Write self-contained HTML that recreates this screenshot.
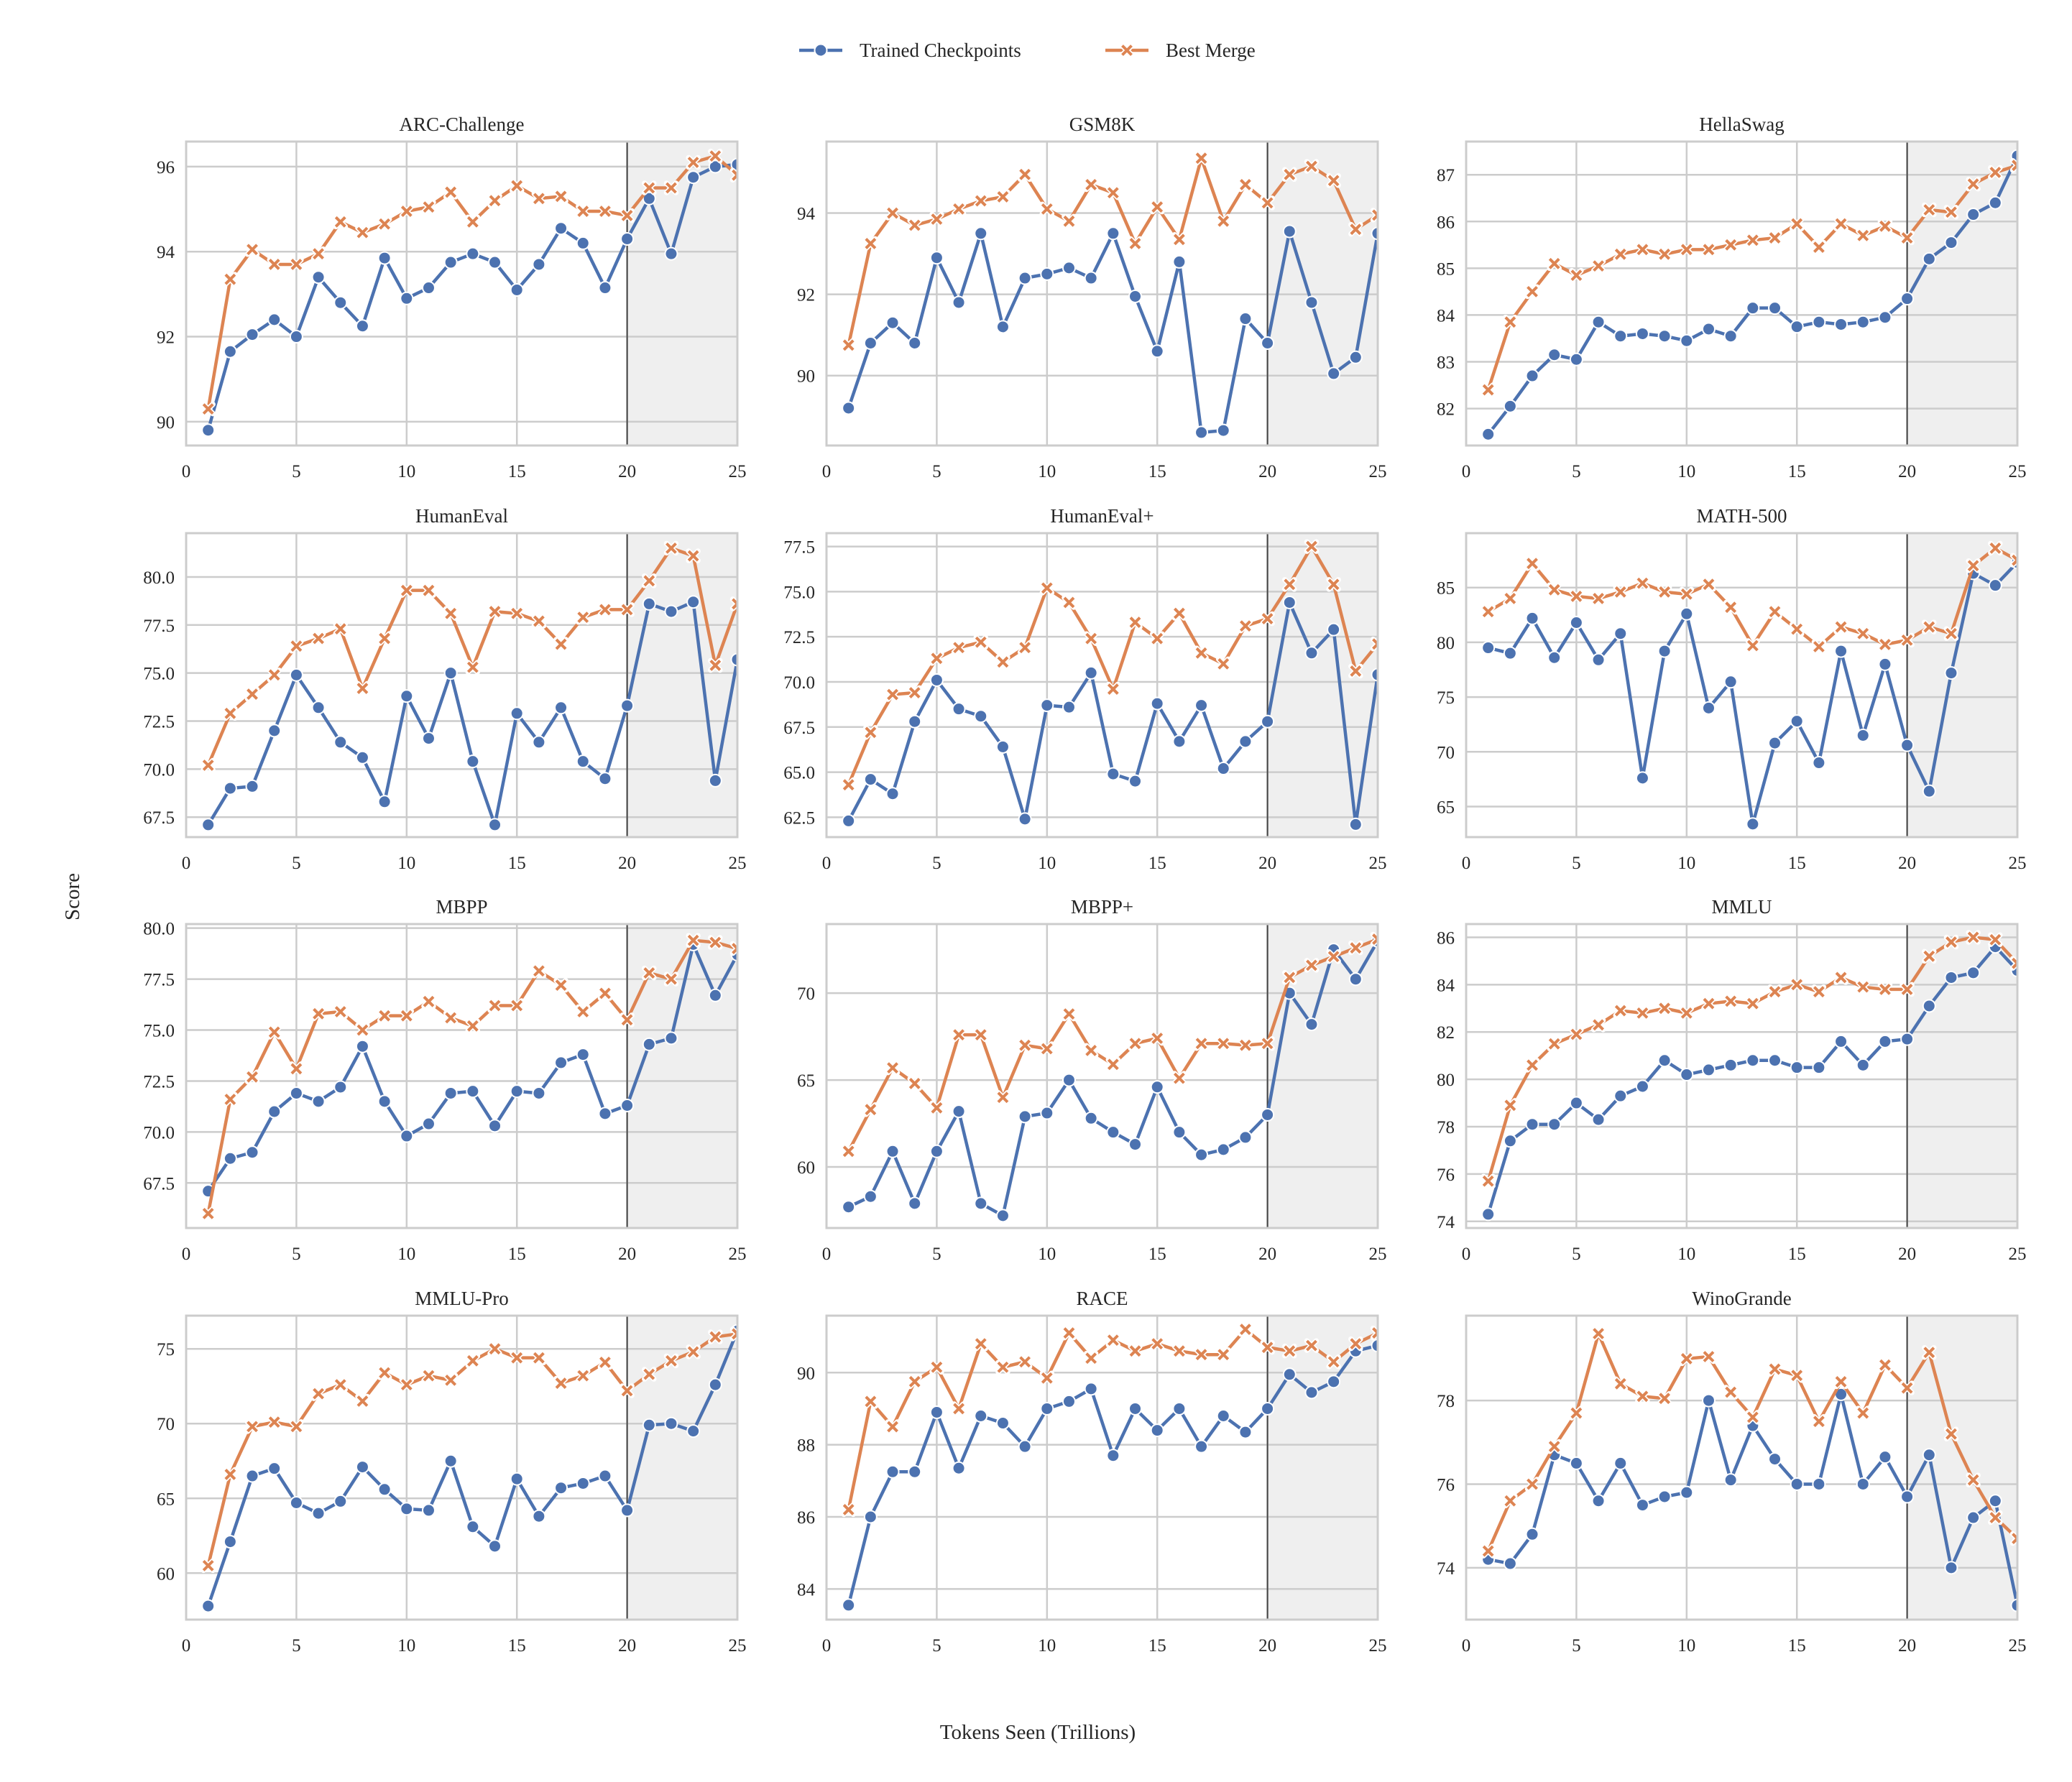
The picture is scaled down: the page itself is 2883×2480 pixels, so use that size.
<!DOCTYPE html>
<html><head><meta charset="utf-8"><style>
html,body{margin:0;padding:0;background:#fff}
svg{display:block}
text{font-family:"Liberation Serif",serif;fill:#262626}
</style></head><body>
<svg id="s" width="2883" height="2480" xmlns="http://www.w3.org/2000/svg"></svg>
<script>
const P=[
["ARC-Challenge",89.44,96.59,[90,92,94,96],
[89.8,91.65,92.05,92.4,92.0,93.4,92.8,92.25,93.85,92.9,93.15,93.75,93.95,93.75,93.1,93.7,94.55,94.2,93.15,94.3,95.25,93.95,95.75,96.0,96.05],
[90.3,93.35,94.05,93.7,93.7,93.95,94.7,94.45,94.65,94.95,95.05,95.4,94.7,95.2,95.55,95.25,95.3,94.95,94.95,94.85,95.5,95.5,96.1,96.25,95.8]],
["GSM8K",88.28,95.76,[90,92,94],
[89.2,90.8,91.3,90.8,92.9,91.8,93.5,91.2,92.4,92.5,92.65,92.4,93.5,91.95,90.6,92.8,88.6,88.65,91.4,90.8,93.55,91.8,90.05,90.45,93.5],
[90.75,93.25,94.0,93.7,93.85,94.1,94.3,94.4,94.95,94.1,93.8,94.7,94.5,93.25,94.15,93.35,95.35,93.8,94.7,94.25,94.95,95.15,94.8,93.6,93.95]],
["HellaSwag",81.21,87.71,[82,83,84,85,86,87],
[81.45,82.05,82.7,83.15,83.05,83.85,83.55,83.6,83.55,83.45,83.7,83.55,84.15,84.15,83.75,83.85,83.8,83.85,83.95,84.35,85.2,85.55,86.15,86.4,87.4],
[82.4,83.85,84.5,85.1,84.85,85.05,85.3,85.4,85.3,85.4,85.4,85.5,85.6,85.65,85.95,85.45,85.95,85.7,85.9,85.65,86.25,86.2,86.8,87.05,87.2]],
["HumanEval",66.46,82.28,[67.5,70,72.5,75,77.5,80],
[67.1,69.0,69.1,72.0,74.9,73.2,71.4,70.6,68.3,73.8,71.6,75.0,70.4,67.1,72.9,71.4,73.2,70.4,69.5,73.3,78.6,78.2,78.7,69.4,75.7],
[70.2,72.9,73.9,74.9,76.4,76.8,77.3,74.2,76.8,79.3,79.3,78.1,75.3,78.2,78.1,77.7,76.5,77.9,78.3,78.3,79.8,81.5,81.1,75.4,78.6],1],
["HumanEval+",61.4,78.24,[62.5,65,67.5,70,72.5,75,77.5],
[62.3,64.6,63.8,67.8,70.1,68.5,68.1,66.4,62.4,68.7,68.6,70.5,64.9,64.5,68.8,66.7,68.7,65.2,66.7,67.8,74.4,71.6,72.9,62.1,70.4],
[64.3,67.2,69.3,69.4,71.3,71.9,72.2,71.1,71.9,75.2,74.4,72.4,69.6,73.3,72.4,73.8,71.6,71.0,73.1,73.5,75.4,77.5,75.4,70.6,72.1],1],
["MATH-500",62.21,89.97,[65,70,75,80,85],
[79.5,79.0,82.2,78.6,81.8,78.4,80.8,67.6,79.2,82.6,74.0,76.4,63.4,70.8,72.8,69.0,79.2,71.5,78.0,70.6,66.4,77.2,86.3,85.2,87.3],
[82.8,84.0,87.2,84.8,84.2,84.0,84.6,85.4,84.6,84.4,85.3,83.2,79.7,82.8,81.2,79.6,81.4,80.8,79.8,80.2,81.4,80.8,87.0,88.6,87.5]],
["MBPP",65.29,80.2,[67.5,70,72.5,75,77.5,80],
[67.1,68.7,69.0,71.0,71.9,71.5,72.2,74.2,71.5,69.8,70.4,71.9,72.0,70.3,72.0,71.9,73.4,73.8,70.9,71.3,74.3,74.6,79.2,76.7,78.7],
[66.0,71.6,72.7,74.9,73.1,75.8,75.9,75.0,75.7,75.7,76.4,75.6,75.2,76.2,76.2,77.9,77.2,75.9,76.8,75.5,77.8,77.5,79.4,79.3,79.0],1],
["MBPP+",56.49,73.97,[60,65,70],
[57.7,58.3,60.9,57.9,60.9,63.2,57.9,57.2,62.9,63.1,65.0,62.8,62.0,61.3,64.6,62.0,60.7,61.0,61.7,63.0,70.0,68.2,72.5,70.8,73.0],
[60.9,63.3,65.7,64.8,63.4,67.6,67.6,64.0,67.0,66.8,68.8,66.7,65.9,67.1,67.4,65.1,67.1,67.1,67.0,67.1,70.9,71.6,72.1,72.6,73.1]],
["MMLU",73.72,86.56,[74,76,78,80,82,84,86],
[74.3,77.4,78.1,78.1,79.0,78.3,79.3,79.7,80.8,80.2,80.4,80.6,80.8,80.8,80.5,80.5,81.6,80.6,81.6,81.7,83.1,84.3,84.5,85.6,84.6],
[75.7,78.9,80.6,81.5,81.9,82.3,82.9,82.8,83.0,82.8,83.2,83.3,83.2,83.7,84.0,83.7,84.3,83.9,83.8,83.8,85.2,85.8,86.0,85.9,84.9]],
["MMLU-Pro",56.89,77.22,[60,65,70,75],
[57.8,62.1,66.5,67.0,64.7,64.0,64.8,67.1,65.6,64.3,64.2,67.5,63.1,61.8,66.3,63.8,65.7,66.0,66.5,64.2,69.9,70.0,69.5,72.6,76.2],
[60.5,66.6,69.8,70.1,69.8,72.0,72.6,71.5,73.4,72.6,73.2,72.9,74.2,75.0,74.4,74.4,72.7,73.2,74.1,72.2,73.3,74.2,74.8,75.8,76.0]],
["RACE",83.15,91.58,[84,86,88,90],
[83.55,86.0,87.25,87.25,88.9,87.35,88.8,88.6,87.95,89.0,89.2,89.55,87.7,89.0,88.4,89.0,87.95,88.8,88.35,89.0,89.95,89.45,89.75,90.6,90.75],
[86.2,89.2,88.5,89.75,90.15,89.0,90.8,90.15,90.3,89.85,91.1,90.4,90.9,90.6,90.8,90.6,90.5,90.5,91.2,90.7,90.6,90.75,90.3,90.8,91.1]],
["WinoGrande",72.76,80.03,[74,76,78],
[74.2,74.1,74.8,76.7,76.5,75.6,76.5,75.5,75.7,75.8,78.0,76.1,77.4,76.6,76.0,76.0,78.15,76.0,76.65,75.7,76.7,74.0,75.2,75.6,73.1],
[74.4,75.6,76.0,76.9,77.7,79.6,78.4,78.1,78.05,79.0,79.05,78.2,77.6,78.75,78.6,77.5,78.45,77.7,78.85,78.3,79.15,77.2,76.1,75.2,74.7]]
];
const cols=[259,1150,2040],rows=[197,742,1286,1831],W=767,H=423;
const B="#4c72b0",O="#dd8452";
let h="";
function xm(cx,cy,c){const r=6.5;return `<path d="M${cx-r} ${cy-r}L${cx+r} ${cy+r}M${cx-r} ${cy+r}L${cx+r} ${cy-r}" stroke="#fff" stroke-width="7.5" stroke-linecap="round"/><path d="M${cx-r} ${cy-r}L${cx+r} ${cy+r}M${cx-r} ${cy+r}L${cx+r} ${cy-r}" stroke="${c}" stroke-width="4"/>`;}
P.forEach((p,i)=>{
 const x0=cols[i%3],y0=rows[Math.floor(i/3)];
 const [t,lo,hi,ticks,b,o,dec]=p;
 const X=v=>x0+v/25*W, Y=v=>y0+H-(v-lo)/(hi-lo)*H;
 h+=`<defs><clipPath id="c${i}"><rect x="${x0}" y="${y0}" width="${W}" height="${H}"/></clipPath></defs>`;
 h+=`<rect x="${X(20)}" y="${y0}" width="${X(25)-X(20)}" height="${H}" fill="#efefef"/>`;
 for(let k=0;k<=25;k+=5){h+=`<line x1="${X(k)}" x2="${X(k)}" y1="${y0}" y2="${y0+H}" stroke="#cccccc" stroke-width="2.5"/>`;
  h+=`<text x="${X(k)}" y="${y0+H+44}" font-size="25" text-anchor="middle">${k}</text>`;}
 ticks.forEach(v=>{h+=`<line x1="${x0}" x2="${x0+W}" y1="${Y(v)}" y2="${Y(v)}" stroke="#cccccc" stroke-width="2.5"/>`;
  h+=`<text x="${x0-16}" y="${Y(v)+9}" font-size="25" text-anchor="end">${dec?v.toFixed(1):v}</text>`;});
 h+=`<line x1="${X(20)}" x2="${X(20)}" y1="${y0}" y2="${y0+H}" stroke="#444" stroke-width="2"/>`;
 h+=`<g clip-path="url(#c${i})">`;
 const pb=b.map((v,j)=>X(j+1)+","+Y(v)).join(" "), po=o.map((v,j)=>X(j+1)+","+Y(v)).join(" ");
 h+=`<polyline points="${pb}" fill="none" stroke="${B}" stroke-width="4.5" stroke-linejoin="round"/>`;
 b.forEach((v,j)=>{h+=`<circle cx="${X(j+1)}" cy="${Y(v)}" r="8.5" fill="${B}" stroke="#fff" stroke-width="2"/>`;});
 h+=`<polyline points="${po}" fill="none" stroke="${O}" stroke-width="4.5" stroke-linejoin="round"/>`;
 o.forEach((v,j)=>{h+=xm(X(j+1),Y(v),O);});
 h+=`</g>`;
 h+=`<rect x="${x0}" y="${y0}" width="${W}" height="${H}" fill="none" stroke="#cccccc" stroke-width="3"/>`;
 h+=`<text x="${x0+W/2}" y="${y0-15}" font-size="27" text-anchor="middle">${t}</text>`;
});
h+=`<line x1="1112" x2="1172" y1="70" y2="70" stroke="${B}" stroke-width="4.5"/><circle cx="1142" cy="70" r="8.5" fill="${B}" stroke="#fff" stroke-width="2"/>`;
h+=`<text x="1196" y="79" font-size="27">Trained Checkpoints</text>`;
h+=`<line x1="1538" x2="1598" y1="70" y2="70" stroke="${O}" stroke-width="4.5"/>`+xm(1568,70,O);
h+=`<text x="1622" y="79" font-size="27">Best Merge</text>`;
h+=`<text x="1444" y="2420" font-size="29" text-anchor="middle">Tokens Seen (Trillions)</text>`;
h+=`<text transform="translate(110,1248) rotate(-90)" font-size="29" text-anchor="middle">Score</text>`;
document.getElementById("s").innerHTML=h;
</script>
</body></html>
